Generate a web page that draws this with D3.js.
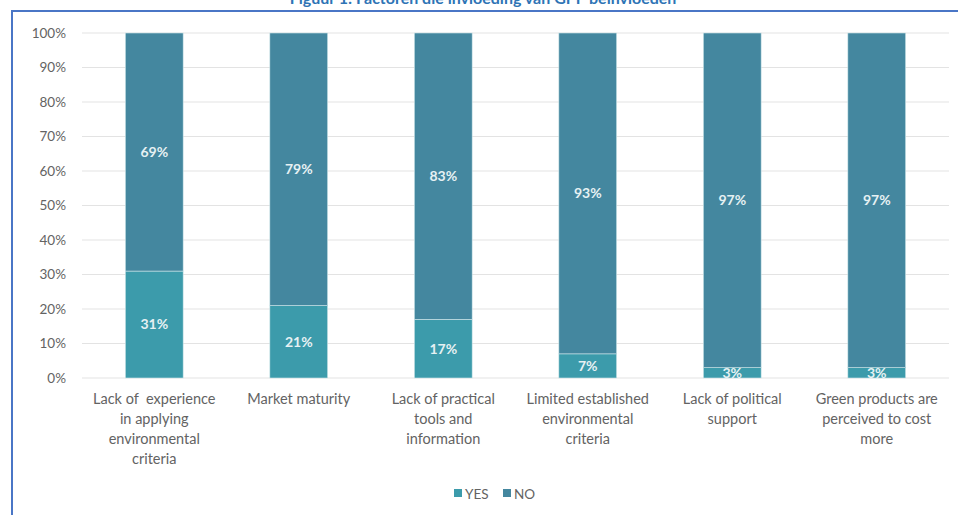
<!DOCTYPE html>
<html>
<head>
<meta charset="utf-8">
<script src="https://cdn.jsdelivr.net/npm/d3@7/dist/d3.min.js"></script>
<style>
  body { margin: 0; background: #fff; }
  svg { display: block; font-family: Lato, "Liberation Sans", sans-serif; }
</style>
</head>
<body>
<svg id="chart" width="958" height="515"></svg>
<script>
const title = "Figuur 1: Factoren die invloeding van GPP beïnvloeden";
const categories = [
  ["Lack of  experience", "in applying", "environmental", "criteria"],
  ["Market maturity"],
  ["Lack of practical", "tools and", "information"],
  ["Limited established", "environmental", "criteria"],
  ["Lack of political", "support"],
  ["Green products are", "perceived to cost", "more"]
];
const yesValues = [31, 21, 17, 7, 3, 3];
const noValues = [69, 79, 83, 93, 97, 97];
const seriesNames = ["YES", "NO"];
const yTicks = [0, 10, 20, 30, 40, 50, 60, 70, 80, 90, 100];

const colors = { YES: "#3c9bab", NO: "#44879f" };
const textColor = "#636363";

const svg = d3.select("#chart");

// frame round the figure
svg.append("path")
  .attr("d", "M12,515 L12,11 L958,11")
  .attr("fill", "none")
  .attr("stroke", "#4a76c6")
  .attr("stroke-width", 2);

// title, cut off at the top like the source
svg.append("text")
  .attr("x", 483)
  .attr("y", 4)
  .attr("text-anchor", "middle")
  .attr("fill", "#2e74b5")
  .style("font-size", "16px")
  .style("font-weight", "bold")
  .text(title);

const margin = { left: 82, right: 9, top: 33, bottom: 137 };
const width = 958 - margin.left - margin.right;
const height = 515 - margin.top - margin.bottom;

const g = svg.append("g")
  .attr("transform", `translate(${margin.left},${margin.top})`);

const x = d3.scaleBand()
  .domain(d3.range(categories.length))
  .range([0, width])
  .paddingInner(0.6)
  .paddingOuter(0.3);

const y = d3.scaleLinear().domain([0, 100]).range([height, 0]);

// gridlines
g.selectAll(".grid")
  .data(yTicks)
  .enter()
  .append("line")
  .attr("x1", 0)
  .attr("x2", width)
  .attr("y1", d => y(d))
  .attr("y2", d => y(d))
  .attr("stroke", "#e3e3e3")
  .attr("stroke-width", 1);

// y axis labels
const yAxis = d3.axisLeft(y)
  .tickValues(yTicks)
  .tickFormat(d => d + "%")
  .tickSize(0)
  .tickPadding(16);

g.append("g")
  .call(yAxis)
  .call(a => a.select(".domain").remove())
  .call(a => a.selectAll("text")
    .attr("fill", textColor)
    .style("font-family", "Lato, sans-serif")
    .style("font-size", "13.5px"));

const rows = categories.map((c, i) => ({ i, YES: yesValues[i], NO: noValues[i] }));
const stacked = d3.stack().keys(seriesNames)(rows);

const layer = g.selectAll(".layer")
  .data(stacked)
  .enter()
  .append("g")
  .attr("fill", d => colors[d.key]);

layer.selectAll("rect")
  .data(d => d)
  .enter()
  .append("rect")
  .attr("x", d => x(d.data.i))
  .attr("width", x.bandwidth())
  .attr("y", d => y(d[1]))
  .attr("height", d => y(d[0]) - y(d[1]))
  .attr("stroke", "#cfe6ea")
  .attr("stroke-width", 0.6);

layer.selectAll("text")
  .data(d => d.map(v => ({ v, key: d.key })))
  .enter()
  .append("text")
  .attr("x", d => x(d.v.data.i) + x.bandwidth() / 2)
  .attr("y", d => y((d.v[0] + d.v[1]) / 2))
  .attr("dy", "0.35em")
  .attr("text-anchor", "middle")
  .attr("fill", "#e6f1f3")
  .style("font-size", "14px")
  .style("font-weight", "bold")
  .text(d => d.v.data[d.key] + "%");

// category labels
const xl = g.selectAll(".xlabel")
  .data(categories)
  .enter()
  .append("text")
  .attr("text-anchor", "middle")
  .attr("fill", textColor)
  .style("font-size", "14.5px")
  .style("white-space", "pre")
  .attr("transform", (d, i) => `translate(${x(i) + x.bandwidth() / 2},${height + 26})`);

xl.selectAll("tspan")
  .data(d => d)
  .enter()
  .append("tspan")
  .attr("x", 0)
  .attr("dy", (d, i) => i === 0 ? 0 : 20)
  .text(d => d);

// legend
const legend = svg.append("g")
  .attr("transform", "translate(454,494)");

const item = legend.selectAll("g")
  .data(seriesNames)
  .enter()
  .append("g")
  .attr("transform", (d, i) => `translate(${i * 49},0)`);

item.append("rect")
  .attr("y", -5)
  .attr("width", 8)
  .attr("height", 8)
  .attr("fill", d => colors[d]);

item.append("text")
  .attr("x", 11)
  .attr("dy", "0.35em")
  .attr("fill", textColor)
  .style("font-size", "13.5px")
  .text(d => d);
</script>
</body>
</html>
